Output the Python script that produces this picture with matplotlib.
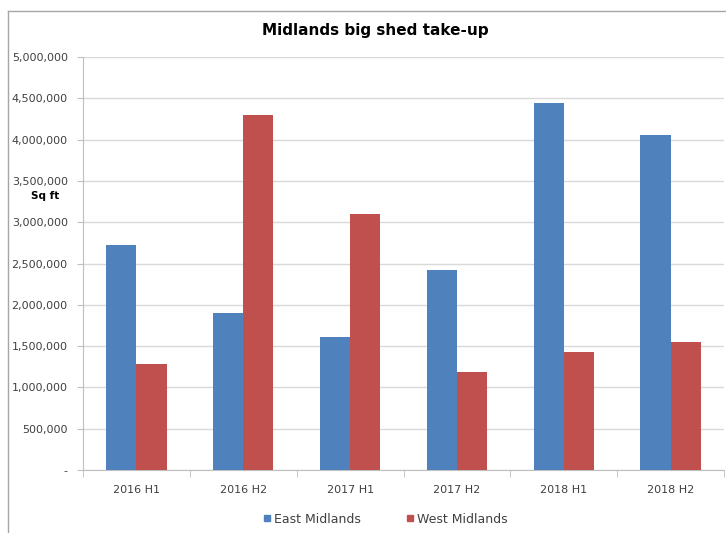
import matplotlib
matplotlib.use("Agg")
import matplotlib.pyplot as plt
from matplotlib.lines import Line2D
from matplotlib.ticker import FuncFormatter, FixedLocator
import numpy as np

# half-year periods and take-up (sq ft)
periods = ["2016 H1", "2016 H2", "2017 H1", "2017 H2", "2018 H1", "2018 H2"]
east = [2730000, 1900000, 1610000, 2420000, 4440000, 4060000]
west = [1280000, 4300000, 3100000, 1185000, 1430000, 1550000]

blue = "#4F81BD"
red = "#C0504D"
txt = "#404040"

fig = plt.figure(figsize=(7.26, 5.33), dpi=100)
ax = fig.add_axes([0.1143, 0.118, 0.883, 0.775])

x = np.arange(len(periods))
w = 0.283
ax.bar(x - w / 2, east, w, color=blue, label="East Midlands", zorder=3)
ax.bar(x + w / 2, west, w, color=red, label="West Midlands", zorder=3)

ax.set_xlim(-0.5, len(periods) - 0.5)
ax.set_ylim(0, 5000000)
ax.set_yticks(np.arange(0, 5000001, 500000))
ax.yaxis.set_major_formatter(FuncFormatter(lambda v, p: "-" if v == 0 else f"{int(v):,}"))
ax.set_xticks(x)
ax.set_xticklabels(periods)
ax.xaxis.set_minor_locator(FixedLocator(np.arange(-0.5, len(periods), 1.0)))

ax.grid(axis="y", color="#d9d9d9", linewidth=1, zorder=0)
for s in ["top", "right"]:
    ax.spines[s].set_visible(False)
for s in ["left", "bottom"]:
    ax.spines[s].set_color("#bfbfbf")

ax.tick_params(axis="y", labelsize=8, colors="#bfbfbf", labelcolor=txt, length=4, pad=7)
ax.tick_params(axis="x", which="major", labelsize=8, labelcolor=txt, length=0, pad=11)
ax.tick_params(axis="x", which="minor", colors="#bfbfbf", length=5)

ax.text(-0.059, 0.663, "Sq ft", transform=ax.transAxes, fontsize=7.5,
        fontweight="bold", color="black", ha="center", va="center")

fig.text(0.517, 0.942, "Midlands big shed take-up", fontsize=11,
         fontweight="bold", ha="center", va="center", color="black")

handles = [Line2D([], [], marker="s", linestyle="none", markersize=5, color=blue),
           Line2D([], [], marker="s", linestyle="none", markersize=5, color=red)]
fig.legend(handles, ["East Midlands", "West Midlands"], loc="center",
           bbox_to_anchor=(0.53, 0.026), ncol=2, frameon=False, fontsize=9,
           handletextpad=0.1, columnspacing=3.6, handlelength=0.8,
           labelcolor=txt)

# chart area border (left and top edges visible)
fig.add_artist(Line2D([8 / 726, 8 / 726], [0, 1 - 11 / 533], transform=fig.transFigure,
                      color="#a6a6a6", linewidth=1))
fig.add_artist(Line2D([8 / 726, 1], [1 - 11 / 533, 1 - 11 / 533], transform=fig.transFigure,
                      color="#a6a6a6", linewidth=1))

fig.savefig("out.png", dpi=100)
